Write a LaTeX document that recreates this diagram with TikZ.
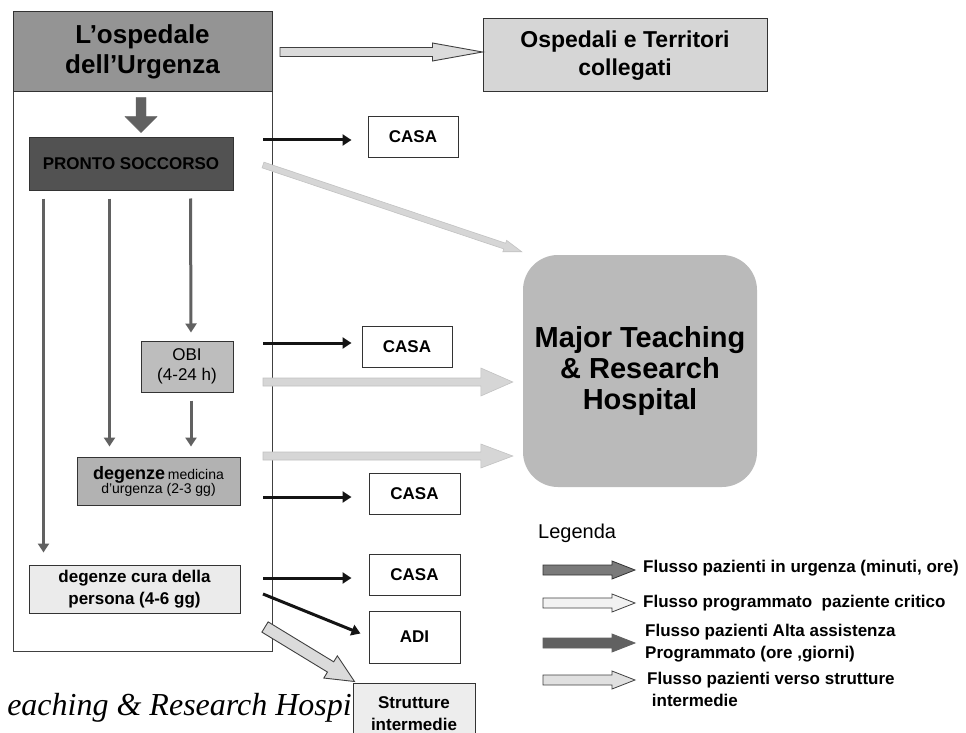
\documentclass[tikz,border=0pt]{standalone}
\usepackage{fontspec}
\setmainfont{Liberation Sans}
\newfontfamily\serifit{Liberation Serif}
\usetikzlibrary{calc,arrows.meta,backgrounds}
\newcommand\fsz[2]{\fontsize{#1}{#2}\selectfont}
\newcommand\blockarr[6][]{%
  \coordinate (baP) at ($(#3)!#6!(#2)$);
  \draw[#1] ($(#2)!#4!90:(#3)$) -- ($(baP)!#4!90:(#3)$) -- ($(baP)!#5!90:(#3)$) -- (#3)
    -- ($(baP)!#5!-90:(#3)$) -- ($(baP)!#4!-90:(#3)$) -- ($(#2)!#4!-90:(#3)$) -- cycle;}
\tikzset{
  box/.style={draw=black!80, line width=1pt, inner sep=0pt, align=center},
  flowdark/.style={draw=black!62, line width=3pt, -{Triangle[length=9pt,width=11pt]}},
  flowblack/.style={draw=black!92, line width=3pt, -{Triangle[length=9pt,width=11pt]}},
  lightarr/.style={fill=black!16, draw=black!24, line width=0.6pt},
  hollowarr/.style={fill=black!14, draw=black!75, line width=0.9pt},
  legtext/.style={anchor=base west, inner sep=0pt, font=\bfseries\fsz{17}{22}, align=left},
}
\begin{document}
\begin{tikzpicture}[x=1pt,y=-1pt]
\useasboundingbox (0,0) rectangle (966,733);
\fill[white] (0,0) rectangle (966,733);

% bottom italic text (partly hidden)
\node[anchor=base east, inner sep=0pt, font=\serifit\itshape\fsz{32}{36}] (bt) at (352,715) {eaching \& Research Hospi};

% outer frame and header
\node[draw=black!75, line width=1pt, minimum width=259, minimum height=639, inner sep=0pt] (outer) at (142.5,331.5) {};
\node[box, fill=black!42, minimum width=259, minimum height=80, font=\bfseries\fsz{26}{30}] (hdr) at (142.5,52) {L'ospedale\\dell'Urgenza};

% other boxes
\node[box, fill=black!16, minimum width=284, minimum height=73, font=\bfseries\fsz{23}{28}] (osp) at (625,55.5) {Ospedali e Territori\\collegati};
\node[box, fill=black!68, minimum width=204, minimum height=52, font=\bfseries\fsz{17}{18}] (ps) at (131,164) {PRONTO SOCCORSO};
\node[box, fill=black!26, minimum width=92, minimum height=51, font=\fsz{17}{20}] (obi) at (187,366.5) {OBI\\(4-24 h)};
\node[box, fill=black!30, minimum width=163, minimum height=48] (dmed) at (158.5,481) {{\bfseries\fsz{18}{20}degenze} {\fsz{14}{18}medicina}\\[-1pt]{\fsz{14}{18}d'urgenza (2-3 gg)}};
\node[box, fill=black!8, minimum width=211, minimum height=48, font=\bfseries\fsz{17}{22}] (dcura) at (134.5,589) {degenze cura della\\persona (4-6 gg)};
\node[box, fill=white, minimum width=90, minimum height=41, font=\bfseries\fsz{17}{18}] (casa1) at (413,137) {CASA};
\node[box, fill=white, minimum width=90, minimum height=41, font=\bfseries\fsz{17}{18}] (casa2) at (407,347) {CASA};
\node[box, fill=white, minimum width=91, minimum height=41, font=\bfseries\fsz{17}{18}] (casa3) at (414.5,493.5) {CASA};
\node[box, fill=white, minimum width=91, minimum height=41, font=\bfseries\fsz{17}{18}] (casa4) at (414.5,574.5) {CASA};
\node[box, fill=white, minimum width=91, minimum height=52, font=\bfseries\fsz{17}{18}] (adi) at (414.5,637) {ADI};
\node[box, fill=black!7, minimum width=122, minimum height=62, font=\bfseries\fsz{17}{22}] (strutt) at (414,714) {Strutture\\intermedie};
\node[fill=black!27, rounded corners=35pt, minimum width=234, minimum height=232, inner sep=0pt, align=center, font=\bfseries\fsz{29}{31}] (major) at (640,371) {Major Teaching\\\& Research\\Hospital};

% header arrows
\coordinate (hA) at (280,52);
\coordinate (hB) at (hA -| osp.west);
\blockarr[hollowarr]{hA}{hB}{4.5pt}{9pt}{50pt}
\coordinate (dA) at ($(hdr.south)+(-1.5,5)$);
\coordinate (dB) at ($(ps.north)+(8.5,-5)$);
\coordinate (dB) at (dA |- dB);
\blockarr[fill=black!62, draw=black!62]{dA}{dB}{5pt}{16pt}{16pt}

% inner vertical flows
\draw[flowdark] ($(ps.south west)+(15,8)$) -- ($(dcura.north west)+(15,-12)$);
\draw[flowdark] ($(ps.south west)+(81,8)$) -- ($(dmed.north west)+(33,-10)$);
\draw[flowdark] ($(ps.south west)+(162,8)$) -- ($(obi.north)+(4,-8)$);
\draw[flowdark] ($(obi.south)+(4,8)$) -- ($(dmed.north)+(32.5,-10)$);
\begin{pgfonlayer}{background}
\draw[flowdark] ($(obi.south)+(-29,8)$) -- ($(dcura.north)+(23.5,-12)$);
\end{pgfonlayer}

% black flows to CASA / ADI
\coordinate (b1) at (263,140);
\coordinate (b2) at (263,343);
\coordinate (b3) at (263,497);
\coordinate (b4) at (263,578);
\coordinate (b5) at (263,594);
\draw[flowblack, shorten >=16pt] (b1) -- (b1 -| casa1.west);
\draw[flowblack, shorten >=10pt] (b2) -- (b2 -| casa2.west);
\draw[flowblack, shorten >=17pt] (b3) -- (b3 -| casa3.west);
\draw[flowblack, shorten >=17pt] (b4) -- (b4 -| casa4.west);
\draw[flowblack] (b5) -- ($(adi.north west)+(-8,23)$);

% light flows to Major Teaching
\coordinate (l1) at (263,165);
\coordinate (l1e) at ($(major.north west)+(-1,-3)$);
\blockarr[lightarr]{l1}{l1e}{3pt}{6pt}{18pt}
\coordinate (l2) at (263,382);
\coordinate (l2e) at ($(l2 -| major.west)+(-10,0)$);
\blockarr[lightarr]{l2}{l2e}{4pt}{14pt}{32pt}
\coordinate (l3) at (263,456);
\coordinate (l3e) at ($(l3 -| major.west)+(-10,0)$);
\blockarr[lightarr]{l3}{l3e}{4pt}{12pt}{32pt}

% flow to Strutture intermedie
\coordinate (sA) at (265,627);
\coordinate (sB) at ($(strutt.north west)+(2,-1)$);
\blockarr[hollowarr]{sA}{sB}{6pt}{13pt}{28pt}

% legend
\node[anchor=base west, inner sep=0pt, font=\fsz{20}{24}] (leg) at (538,538) {Legenda};
\coordinate (g1a) at (543,570); \coordinate (g1b) at (635,570);
\coordinate (g2a) at (543,603); \coordinate (g2b) at (635,603);
\coordinate (g3a) at (543,643); \coordinate (g3b) at (635,643);
\coordinate (g4a) at (543,680); \coordinate (g4b) at (635,680);
\blockarr[fill=black!52, draw=black!80, line width=0.8pt]{g1a}{g1b}{5pt}{9pt}{23pt}
\blockarr[fill=black!5, draw=black!75, line width=0.8pt]{g2a}{g2b}{5pt}{9pt}{23pt}
\blockarr[fill=black!62, draw=black!62, line width=0.8pt]{g3a}{g3b}{5pt}{9pt}{23pt}
\blockarr[fill=black!12, draw=black!75, line width=0.8pt]{g4a}{g4b}{5pt}{9pt}{23pt}
\node[legtext] (t1) at (643,572) {Flusso pazienti in urgenza (minuti, ore)};
\node[legtext] (t2) at (643,607) {Flusso programmato\ \ paziente critico};
\node[legtext, anchor=north west] (t3) at (645,624) {Flusso pazienti Alta assistenza\\Programmato (ore ,giorni)};
\node[legtext, anchor=north west] (t4) at (647,672) {Flusso pazienti verso strutture\\\ intermedie};
\end{tikzpicture}
\end{document}
